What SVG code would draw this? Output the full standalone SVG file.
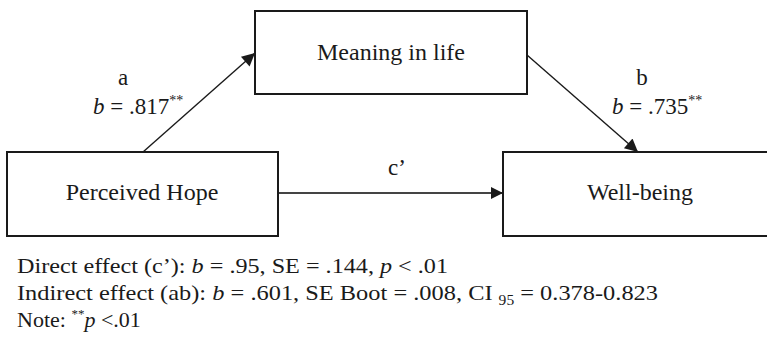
<svg xmlns="http://www.w3.org/2000/svg" width="767" height="338" viewBox="0 0 767 338">
<style>
  .box { fill: #ffffff; stroke: #1a1a1a; stroke-width: 2; }
  .lbl { font-family: "Liberation Serif", "Times New Roman", serif; fill: #1a1a1a; }
  .node { font-size: 24px; text-anchor: middle; }
  .edge { font-size: 23px; }
  .note { font-size: 22px; }
  .conn { stroke: #1a1a1a; stroke-width: 1.4; fill: none; }
  .c2 { stroke: #444444; stroke-width: 2; fill: none; }
  .it { font-style: italic; }
</style>
<defs>
  <marker id="arr" viewBox="0 0 10 10" refX="10" refY="5" markerWidth="15" markerHeight="13" markerUnits="userSpaceOnUse" orient="auto">
    <path d="M0,0 L10,5 L0,10 z" fill="#1a1a1a"/>
  </marker>
  <marker id="arr2" viewBox="0 0 10 10" refX="10" refY="5" markerWidth="14" markerHeight="12" markerUnits="userSpaceOnUse" orient="auto">
    <path d="M0,0 L10,5 L0,10 z" fill="#1a1a1a"/>
  </marker>
</defs>
<g id="connectors">
  <line class="conn" x1="143" y1="152" x2="255" y2="53" marker-end="url(#arr)"/>
  <line class="conn" x1="527" y1="55" x2="638" y2="152" marker-end="url(#arr)"/>
  <line class="c2" x1="278" y1="193" x2="503" y2="193" marker-end="url(#arr2)"/>
  <text class="lbl edge" x="123" y="85" text-anchor="middle">a</text>
  <text class="lbl edge" x="93" y="114"><tspan class="it">b</tspan> = .817<tspan font-size="14" dy="-9">**</tspan></text>
  <text class="lbl edge" x="642" y="85" text-anchor="middle">b</text>
  <text class="lbl edge" x="612" y="114"><tspan class="it">b</tspan> = .735<tspan font-size="14" dy="-9">**</tspan></text>
  <text class="lbl edge" x="397" y="175" text-anchor="middle">c’</text>
</g>
<g id="meaning">
  <rect class="box" x="255" y="11" width="272" height="83"/>
  <text class="lbl node" x="391" y="60">Meaning in life</text>
</g>
<g id="hope">
  <rect class="box" x="7" y="152" width="271" height="84"/>
  <text class="lbl node" x="142" y="200">Perceived Hope</text>
</g>
<g id="wellbeing">
  <rect class="box" x="503" y="152" width="274" height="84"/>
  <text class="lbl node" x="640" y="200">Well-being</text>
</g>
<g id="notes">
  <text class="lbl note" x="17" y="273" textLength="431" lengthAdjust="spacingAndGlyphs">Direct effect (c’): <tspan class="it">b</tspan> = .95, SE = .144, <tspan class="it">p</tspan> &lt; .01</text>
  <text class="lbl note" x="17" y="300" textLength="641" lengthAdjust="spacingAndGlyphs">Indirect effect (ab): <tspan class="it">b</tspan> = .601, SE Boot = .008, CI <tspan font-size="14" dy="5">95</tspan><tspan dy="-5"> = 0.378-0.823</tspan></text>
  <text class="lbl note" x="17" y="327">Note: <tspan font-size="13" dy="-9">**</tspan><tspan class="it" dy="9">p</tspan> &lt;.01</text>
</g>
</svg>
